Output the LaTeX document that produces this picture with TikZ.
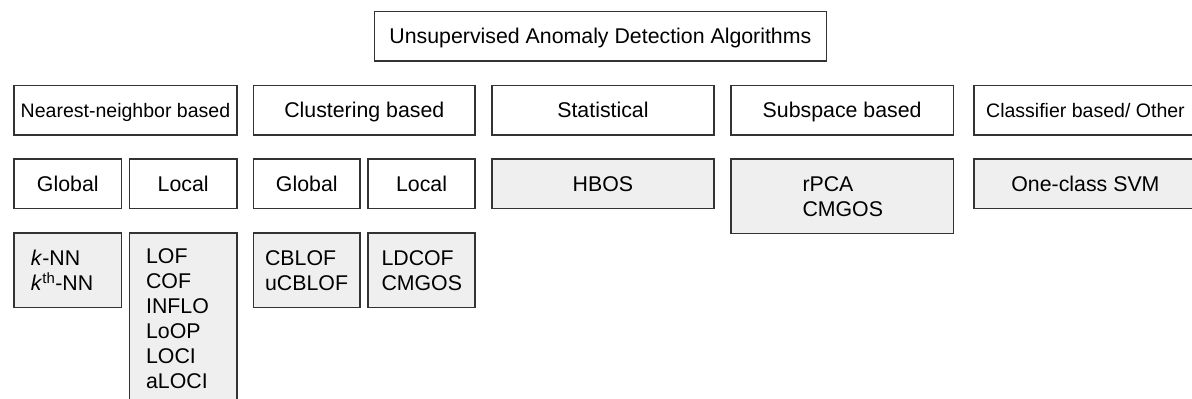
\documentclass[tikz,border=0pt]{standalone}
\usepackage{fontspec}
\setmainfont{Liberation Sans}
\definecolor{boxline}{HTML}{333333}
\definecolor{boxfill}{HTML}{EFEFEF}
\tikzset{
  base/.style={draw=boxline, line width=1.6bp, anchor=north west, inner sep=0pt,
    font=\fontsize{21.4pt}{25.1pt}\selectfont, text=black},
  cat/.style={base, minimum height=49.5bp, text height=15.3bp, text depth=0pt},
  smallcat/.style={cat, font=\fontsize{19.6pt}{24pt}\selectfont, text height=14bp},
  algo/.style={base, fill=boxfill, text height=15.3bp, text depth=0pt},
  listbox/.style n args={2}{base, fill=boxfill, align=left,
    text width=#1bp-2*#2bp, inner xsep=#2bp, inner ysep=0pt}
}
\begin{document}
\begin{tikzpicture}[x=1bp,y=-1bp]
\useasboundingbox (0,0) rectangle (1192,398);
\begin{scope}
\clip (0,0) rectangle (1192,398);
% top
\node[cat, minimum width=452.2bp] (top) at (373.5,10.5) {Unsupervised Anomaly Detection Algorithms};
% row 1
\node[smallcat, minimum width=222.7bp] (nn) at (13.3,84.5) {Nearest-neighbor based};
\node[cat, minimum width=221.6bp] (cl) at (252.7,84.5) {Clustering based};
\node[cat, minimum width=222.3bp] (st) at (491,84.5) {Statistical};
\node[cat, minimum width=222.7bp] (su) at (730,84.5) {Subspace based};
\node[smallcat, minimum width=222.7bp] (cb) at (973.3,84.5) {Classifier based/ Other};
% row 2
\node[cat, minimum width=107.4bp, minimum height=49.4bp] (g1) at (13.3,158.3) {Global};
\node[cat, minimum width=107.3bp, minimum height=49.4bp] (l1) at (128.7,158.3) {Local};
\node[cat, minimum width=106.6bp, minimum height=49.4bp] (g2) at (252.7,158.3) {Global};
\node[cat, minimum width=107bp, minimum height=49.4bp] (l2) at (367.3,158.3) {Local};
\node[algo, minimum width=222.3bp, minimum height=49.4bp] (hbos) at (491,158.3) {HBOS};
\node[listbox={222.7}{71.7}, minimum height=74.4bp] (rpca) at (730,158.3) {rPCA\\CMGOS};
\node[algo, minimum width=222.7bp, minimum height=49.4bp] (svm) at (973.3,158.3) {One-class SVM};
% row 3
\node[listbox={107.4}{16.7}, minimum height=74.4bp] (knn) at (13.3,232.3) {\textit{k}-NN\\\textit{k}\textsuperscript{th}-NN};
\node[listbox={107.3}{16.6}, minimum height=171bp] (lof) at (128.7,232.3) {LOF\\COF\\INFLO\\LoOP\\LOCI\\aLOCI};
\node[listbox={106.6}{11.6}, minimum height=74.4bp] (cblof) at (252.7,232.3) {CBLOF\\uCBLOF};
\node[listbox={107}{13.4}, minimum height=74.4bp] (ldcof) at (367.3,232.3) {LDCOF\\CMGOS};
\end{scope}
\end{tikzpicture}
\end{document}
